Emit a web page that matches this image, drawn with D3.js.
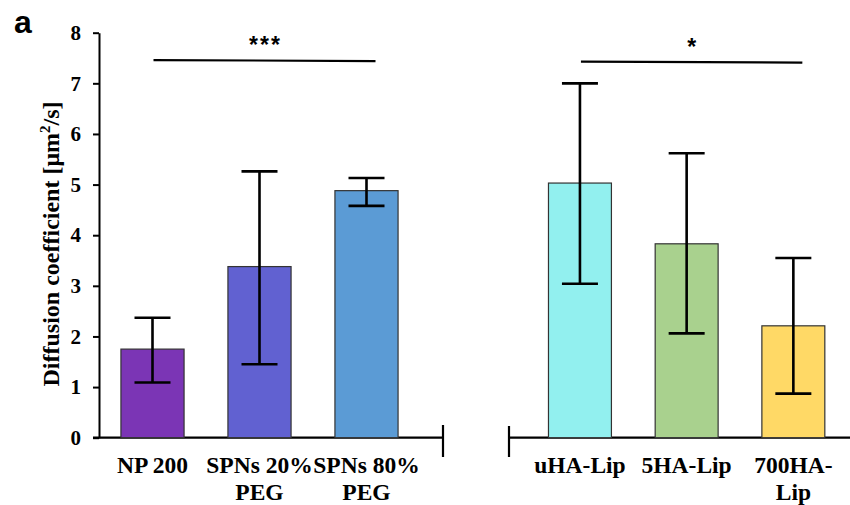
<!DOCTYPE html>
<html>
<head>
<meta charset="utf-8">
<script src="https://cdn.jsdelivr.net/npm/d3@7"></script>
<style>
  body { margin: 0; background: #fff; }
</style>
</head>
<body>
<div id="chart-area"></div>
<script>
// values
var groupA = ['NP 200', 'SPNs 20% PEG', 'SPNs 80% PEG'];
var groupB = ['uHA-Lip', '5HA-Lip', '700HA-Lip'];
var labelLinesA = [['NP 200'], ['SPNs 20%', 'PEG'], ['SPNs 80%', 'PEG']];
var labelLinesB = [['uHA-Lip'], ['5HA-Lip'], ['700HA-', 'Lip']];
var meanA = [1.75, 3.38, 4.88];
var lowA = [1.09, 1.45, 4.58];
var highA = [2.37, 5.26, 5.13];
var meanB = [5.03, 3.83, 2.21];
var lowB = [3.04, 2.06, 0.87];
var highB = [7.0, 5.62, 3.55];
var colorsA = ['#7B35B5', '#6161D1', '#5B9BD5'];
var colorsB = ['#92F0EF', '#A9D18E', '#FFD966'];
var yTicks = [0, 1, 2, 3, 4, 5, 6, 7, 8];
var sigA = { from: 'NP 200', to: 'SPNs 80% PEG', level: 7.46, mark: '***' };
var sigB = { from: 'uHA-Lip', to: '700HA-Lip', level: 7.43, mark: '*' };

var width = 850, height = 505;
var base = 437.7;
var serif = '"Liberation Serif", "Times New Roman", serif';
var sans = '"Liberation Sans", Arial, sans-serif';

var svg = d3.select('#chart-area')
  .append('svg')
    .attr('width', width)
    .attr('height', height);

var y = d3.scaleLinear()
  .domain([0, 8])
  .range([base, 32.7]);

var xA = d3.scaleBand()
  .domain(groupA)
  .range([99, 420])
  .paddingInner(0.41)
  .paddingOuter(0.205);

var xB = d3.scaleBand()
  .domain(groupB)
  .range([526.6, 846.7])
  .paddingInner(0.41)
  .paddingOuter(0.205);

// y axis
var yAxis = svg.append('g')
  .attr('transform', 'translate(99, 0)')
  .call(d3.axisLeft(y).tickValues(yTicks).tickSize(6).tickSizeOuter(0).tickPadding(12));
yAxis.selectAll('path, line').attr('stroke', '#000').attr('stroke-width', 2);
yAxis.selectAll('text')
  .style('font-size', '21px')
  .style('font-family', serif)
  .style('font-weight', 'bold')
  .attr('fill', '#000');

svg.append('text')
  .attr('transform', 'translate(59, 244) rotate(-90)')
  .attr('text-anchor', 'middle')
  .style('font-family', serif)
  .style('font-weight', 'bold')
  .style('font-size', '24px')
  .html('Diffusion coefficient [μm<tspan dy="-9" style="font-size:15px">2</tspan><tspan dy="9">/s]</tspan>');

svg.append('text')
  .attr('x', 14)
  .attr('y', 33)
  .style('font-family', sans)
  .style('font-size', '32px')
  .style('font-weight', 'bold')
  .text('a');

// x axis lines
var axisStyle = function (sel) { sel.attr('stroke', '#000').attr('stroke-width', 2.2).attr('fill', 'none'); };
svg.append('path').attr('d', 'M93,' + base + 'H443M443,425V457').call(axisStyle);
svg.append('path').attr('d', 'M509,426V457M509,' + base + 'H850').call(axisStyle);

var drawGroup = function (x, cats, lines, mean, low, high, colors) {
  var rows = cats.map(function (c, i) {
    return { cat: c, lines: lines[i], mean: mean[i], low: low[i], high: high[i], color: colors[i] };
  });
  var g = svg.append('g');

  g.selectAll('rect')
    .data(rows)
    .enter().append('rect')
      .attr('x', function (d) { return x(d.cat); })
      .attr('y', function (d) { return y(d.mean); })
      .attr('width', x.bandwidth())
      .attr('height', function (d) { return base - y(d.mean); })
      .attr('fill', function (d) { return d.color; })
      .attr('stroke', '#333')
      .attr('stroke-width', 1.2);

  var cap = 18;
  g.selectAll('.err')
    .data(rows)
    .enter().append('path')
      .attr('class', 'err')
      .attr('d', function (d) {
        var cx = x(d.cat) + x.bandwidth() / 2;
        return 'M' + cx + ',' + y(d.low) + 'V' + y(d.high) +
          'M' + (cx - cap) + ',' + y(d.high) + 'H' + (cx + cap) +
          'M' + (cx - cap) + ',' + y(d.low) + 'H' + (cx + cap);
      })
      .attr('stroke', '#000')
      .attr('stroke-width', 2.6)
      .attr('fill', 'none');

  var labels = g.selectAll('.lbl')
    .data(rows)
    .enter().append('text')
      .attr('class', 'lbl')
      .attr('text-anchor', 'middle')
      .style('font-family', serif)
      .style('font-weight', 'bold')
      .style('font-size', '23.5px')
      .attr('y', 473);
  labels.each(function (d) {
    var t = d3.select(this);
    d.lines.forEach(function (ln, j) {
      t.append('tspan')
        .attr('x', x(d.cat) + x.bandwidth() / 2)
        .attr('y', 473 + j * 27)
        .text(ln);
    });
  });
};

drawGroup(xA, groupA, labelLinesA, meanA, lowA, highA, colorsA);
drawGroup(xB, groupB, labelLinesB, meanB, lowB, highB, colorsB);

var drawSig = function (x, s) {
  var x0 = x(s.from) + x.bandwidth() / 2 + 1;
  var x1 = x(s.to) + x.bandwidth() / 2 + 9;
  svg.append('line')
    .attr('x1', x0).attr('x2', x1)
    .attr('y1', y(s.level)).attr('y2', y(s.level) + 1)
    .attr('stroke', '#000')
    .attr('stroke-width', 2.2);
  svg.append('text')
    .attr('x', (x0 + x1) / 2 + 1)
    .attr('y', y(s.level) - 7)
    .attr('text-anchor', 'middle')
    .style('font-family', sans)
    .style('font-size', '23px')
    .style('font-weight', 'bold')
    .style('letter-spacing', '2px')
    .text(s.mark);
};
drawSig(xA, sigA);
drawSig(xB, sigB);
</script>
</body>
</html>
